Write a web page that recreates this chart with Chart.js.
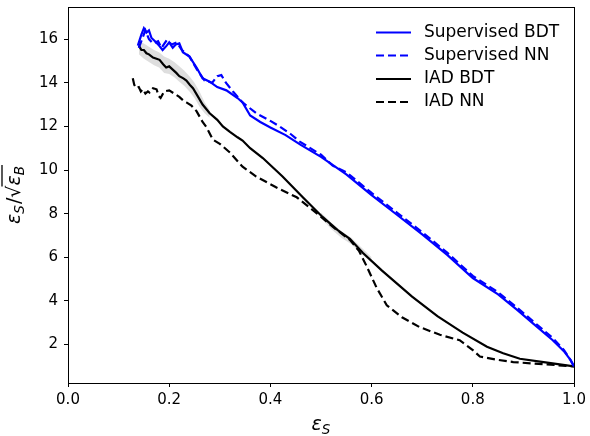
<!DOCTYPE html>
<html>
<head>
<meta charset="utf-8">
<script src="https://cdn.jsdelivr.net/npm/chart.js@4.4.0/dist/chart.umd.min.js"></script>
<style>
  html, body { margin: 0; padding: 0; background: #fff; }
  #wrap { width: 590px; height: 436px; }
</style>
</head>
<body>
<div id="wrap"><canvas id="effChart" width="590" height="436"></canvas></div>
<script>
// values
const supBdtX = [0.138, 0.145, 0.150, 0.155, 0.160, 0.165, 0.172, 0.180, 0.187, 0.195, 0.200, 0.207, 0.213, 0.220, 0.227, 0.240, 0.254, 0.266, 0.280, 0.295, 0.313, 0.335, 0.345, 0.360, 0.380, 0.400, 0.430, 0.460, 0.500, 0.550, 0.600, 0.650, 0.700, 0.750, 0.800, 0.850, 0.887, 0.920, 0.958, 0.980, 0.993, 1.000];
const supBdtY = [15.7, 16.2, 16.5, 16.3, 16.4, 16.05, 15.9, 15.7, 15.5, 15.7, 15.85, 15.6, 15.75, 15.8, 15.4, 15.2, 14.7, 14.2, 14.05, 13.8, 13.65, 13.3, 13.1, 12.5, 12.2, 11.95, 11.6, 11.15, 10.6, 9.8, 8.85, 7.95, 7.05, 6.1, 5.05, 4.3, 3.6, 2.95, 2.2, 1.7, 1.3, 1.0];

const supNnX = [0.140, 0.148, 0.153, 0.160, 0.168, 0.178, 0.185, 0.195, 0.205, 0.215, 0.225, 0.240, 0.255, 0.270, 0.285, 0.295, 0.303, 0.312, 0.326, 0.345, 0.372, 0.400, 0.418, 0.440, 0.458, 0.500, 0.523, 0.550, 0.600, 0.650, 0.700, 0.750, 0.800, 0.850, 0.887, 0.920, 0.958, 0.980, 0.993, 1.000];
const supNnY = [15.6, 16.1, 16.4, 16.0, 15.8, 15.9, 15.6, 15.95, 15.75, 15.85, 15.5, 15.2, 14.6, 14.1, 14.0, 14.3, 14.35, 14.0, 13.6, 13.1, 12.6, 12.25, 12.0, 11.65, 11.3, 10.7, 10.2, 9.9, 8.95, 8.05, 7.15, 6.2, 5.15, 4.4, 3.7, 3.05, 2.3, 1.75, 1.3, 1.0];

const iadBdtX = [0.140, 0.145, 0.150, 0.155, 0.160, 0.168, 0.175, 0.181, 0.188, 0.194, 0.200, 0.207, 0.214, 0.220, 0.228, 0.234, 0.241, 0.247, 0.256, 0.266, 0.280, 0.295, 0.306, 0.320, 0.335, 0.345, 0.360, 0.385, 0.424, 0.464, 0.503, 0.533, 0.557, 0.583, 0.620, 0.680, 0.730, 0.780, 0.828, 0.860, 0.893, 0.940, 1.000];
const iadBdtY = [15.7, 15.5, 15.5, 15.35, 15.3, 15.15, 15.1, 15.05, 14.85, 14.7, 14.75, 14.6, 14.45, 14.3, 14.2, 14.1, 13.9, 13.75, 13.4, 13.0, 12.6, 12.3, 12.0, 11.75, 11.5, 11.35, 11.0, 10.55, 9.7, 8.75, 7.85, 7.25, 6.85, 6.2, 5.4, 4.2, 3.3, 2.55, 1.9, 1.6, 1.35, 1.2, 1.0];

const iadNnX = [0.128, 0.131, 0.135, 0.140, 0.144, 0.148, 0.153, 0.158, 0.161, 0.168, 0.175, 0.179, 0.183, 0.190, 0.200, 0.210, 0.220, 0.227, 0.234, 0.244, 0.254, 0.266, 0.274, 0.286, 0.300, 0.320, 0.345, 0.372, 0.412, 0.452, 0.490, 0.523, 0.557, 0.575, 0.590, 0.610, 0.630, 0.660, 0.695, 0.735, 0.774, 0.800, 0.814, 0.850, 0.880, 0.940, 1.000];
const iadNnY = [14.2, 13.9, 13.75, 13.8, 13.6, 13.7, 13.5, 13.6, 13.55, 13.75, 13.7, 13.4, 13.3, 13.6, 13.65, 13.5, 13.35, 13.2, 13.1, 12.95, 12.7, 12.2, 11.95, 11.4, 11.2, 10.8, 10.15, 9.7, 9.2, 8.75, 8.05, 7.4, 6.8, 6.3, 5.6, 4.6, 3.8, 3.25, 2.8, 2.45, 2.2, 1.75, 1.45, 1.3, 1.2, 1.1, 1.0];

// grey uncertainty band around IAD BDT
const bandX = [0.140, 0.150, 0.160, 0.170, 0.180, 0.190, 0.200, 0.210, 0.220, 0.230, 0.240, 0.250, 0.260, 0.270, 0.280];
const bandHi = [15.9, 15.8, 15.65, 15.5, 15.4, 15.2, 15.1, 14.95, 14.75, 14.55, 14.3, 14.0, 13.6, 13.1, 12.75];
const bandLo = [15.3, 15.1, 14.95, 14.8, 14.7, 14.45, 14.4, 14.25, 14.05, 13.85, 13.6, 13.3, 12.9, 12.6, 12.4];
const band2X = [0.500, 0.520, 0.540, 0.560, 0.580, 0.600];
const band2Hi = [8.05, 7.6, 7.2, 6.9, 6.45, 6.0];
const band2Lo = [7.8, 7.3, 6.9, 6.6, 6.15, 5.75];

const xTicks = [0, 0.2, 0.4, 0.6, 0.8, 1.0];
const yTicks = [2, 4, 6, 8, 10, 12, 14, 16];

const pts = (xs, ys) => xs.map((x, i) => ({ x: x, y: ys[i] }));
const FONT = '"DejaVu Sans", sans-serif';
const clear = 'rgba(0,0,0,0)';
const grey = 'rgba(0,0,0,0.13)';

const datasets = [
    { label: 'bandLo', data: pts(bandX, bandLo), borderWidth: 0, borderColor: clear, fill: false, legend: false },
    { label: 'bandHi', data: pts(bandX, bandHi), borderWidth: 0, borderColor: clear, backgroundColor: grey, fill: '-1', legend: false },
    { label: 'band2Lo', data: pts(band2X, band2Lo), borderWidth: 0, borderColor: clear, fill: false, legend: false },
    { label: 'band2Hi', data: pts(band2X, band2Hi), borderWidth: 0, borderColor: clear, backgroundColor: grey, fill: '-1', legend: false },
    { label: 'Supervised BDT', data: pts(supBdtX, supBdtY), borderColor: '#0000ff', borderWidth: 2.2, legend: true },
    { label: 'Supervised NN', data: pts(supNnX, supNnY), borderColor: '#0000ff', borderWidth: 2.2, borderDash: [8, 4], legend: true },
    { label: 'IAD BDT', data: pts(iadBdtX, iadBdtY), borderColor: '#000000', borderWidth: 2.2, legend: true },
    { label: 'IAD NN', data: pts(iadNnX, iadNnY), borderColor: '#000000', borderWidth: 2.2, borderDash: [8, 4], legend: true },
];

// matplotlib-like mathtext pieces
function drawMath(ctx, pieces, cx, cy, rot) {
    ctx.save();
    ctx.translate(cx, cy);
    ctx.rotate(rot);
    ctx.fillStyle = '#000';
    ctx.textBaseline = 'alphabetic';
    let w = 0;
    pieces.forEach(p => { ctx.font = p.font; p.w = ctx.measureText(p.t).width + (p.gap || 0); w += p.w; });
    let x = -w / 2;
    let barStart = null;
    pieces.forEach(p => {
        ctx.font = p.font;
        if (p.barStart) barStart = x;
        ctx.fillText(p.t, x, 5 + (p.dy || 0));
        x += p.w;
    });
    if (barStart !== null) {
        ctx.strokeStyle = '#000';
        ctx.lineWidth = 1.3;
        ctx.beginPath();
        ctx.moveTo(barStart - 1, -13);
        ctx.lineTo(x + 1, -13);
        ctx.stroke();
    }
    ctx.restore();
}

const big = 'italic 19px ' + FONT;
const sub = 'italic 13.5px ' + FONT;
const up = '19px ' + FONT;

const decorations = {
    id: 'decorations',
    afterDraw(chart) {
        const ctx = chart.ctx;
        const a = chart.chartArea;
        // full frame
        ctx.save();
        ctx.strokeStyle = '#000';
        ctx.lineWidth = 1;
        ctx.strokeRect(Math.round(a.left) + 0.5, Math.round(a.top) + 0.5, Math.round(a.right - a.left), Math.round(a.bottom - a.top));
        ctx.restore();

        // legend
        const rows = [32.5, 55.5, 79, 102];
        const shown = chart.data.datasets.filter(d => d.legend);
        ctx.save();
        ctx.font = '17px ' + FONT;
        ctx.textBaseline = 'middle';
        shown.forEach((d, i) => {
            ctx.strokeStyle = d.borderColor;
            ctx.lineWidth = d.borderWidth;
            ctx.setLineDash(d.borderDash || []);
            ctx.beginPath();
            ctx.moveTo(376, rows[i]);
            ctx.lineTo(411, rows[i]);
            ctx.stroke();
            ctx.fillStyle = '#000';
            ctx.fillText(d.label, 424, rows[i]);
        });
        ctx.restore();

        // axis titles
        drawMath(ctx, [{ t: 'ε', font: big }, { t: 'S', font: sub, dy: 4 }], (a.left + a.right) / 2, 425, 0);
        drawMath(ctx, [
            { t: 'ε', font: big }, { t: 'S', font: sub, dy: 4, gap: 1 }, { t: '/', font: up },
            { t: '√', font: up }, { t: 'ε', font: big, barStart: true }, { t: 'B', font: sub, dy: 4 }
        ], 15, (a.top + a.bottom) / 2, -Math.PI / 2);
    }
};

new Chart(document.getElementById('effChart'), {
    type: 'line',
    data: { datasets: datasets },
    options: {
        responsive: false,
        animation: false,
        elements: { point: { radius: 0 }, line: { tension: 0, fill: false } },
        layout: { padding: { top: 7, right: 16, left: 0, bottom: 0 } },
        plugins: { legend: { display: false }, tooltip: { enabled: false } },
        scales: {
            x: {
                type: 'linear',
                min: 0,
                max: 1,
                afterBuildTicks: s => { s.ticks = xTicks.map(v => ({ value: v })); },
                afterFit: s => { s.height = 53; s.paddingLeft = 0; s.paddingRight = 0; },
                ticks: { color: '#000', font: { family: FONT, size: 15 }, padding: 4, maxRotation: 0, callback: v => v.toFixed(1) },
                grid: { drawOnChartArea: false, tickLength: 4, color: '#000', tickColor: '#000' },
                border: { color: '#000', width: 1 }
            },
            y: {
                type: 'linear',
                min: 0.24,
                max: 17.47,
                afterBuildTicks: s => { s.ticks = yTicks.map(v => ({ value: v })); },
                afterFit: s => { s.width = 68; s.paddingTop = 0; s.paddingBottom = 0; },
                ticks: { color: '#000', font: { family: FONT, size: 15 }, padding: 6, callback: v => String(v) },
                grid: { drawOnChartArea: false, tickLength: 4, color: '#000', tickColor: '#000' },
                border: { color: '#000', width: 1 }
            }
        }
    },
    plugins: [decorations]
});
</script>
</body>
</html>
